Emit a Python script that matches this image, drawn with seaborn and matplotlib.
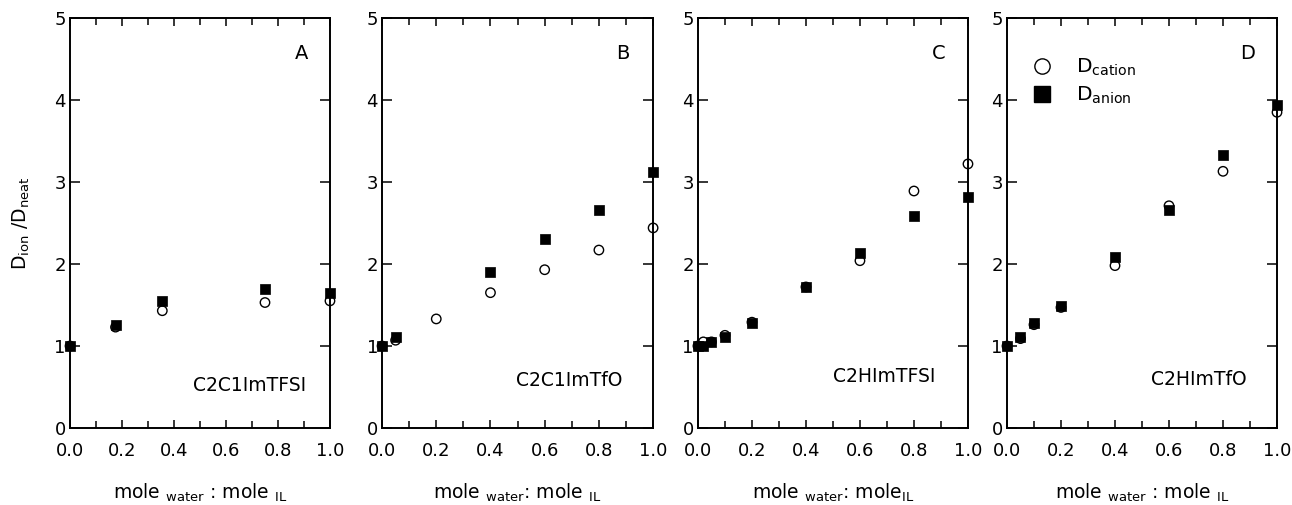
import numpy as np
import pandas as pd
import seaborn as sns
import matplotlib.pyplot as plt
from matplotlib.lines import Line2D
from matplotlib.ticker import MultipleLocator

# --- Data ---
panel_letters = ["A", "B", "C", "D"]
panel_names = ["C2C1ImTFSI", "C2C1ImTfO", "C2HImTFSI", "C2HImTfO"]

# Panel A: C2C1ImTFSI
x_a = [0.0, 0.175, 0.355, 0.75, 1.0]
cation_a = [1.00, 1.23, 1.43, 1.53, 1.55]
anion_a = [1.00, 1.26, 1.55, 1.69, 1.65]

# Panel B: C2C1ImTfO
x_b_cation = [0.0, 0.05, 0.2, 0.4, 0.6, 0.8, 1.0]
cation_b = [1.00, 1.07, 1.33, 1.65, 1.93, 2.17, 2.44]
x_b_anion = [0.0, 0.05, 0.4, 0.6, 0.8, 1.0]
anion_b = [1.00, 1.11, 1.90, 2.30, 2.66, 3.12]

# Panel C: C2HImTFSI
x_c = [0.0, 0.02, 0.05, 0.1, 0.2, 0.4, 0.6, 0.8, 1.0]
cation_c = [1.00, 1.05, 1.05, 1.13, 1.29, 1.72, 2.04, 2.89, 3.22]
anion_c = [1.00, 1.00, 1.05, 1.11, 1.28, 1.72, 2.13, 2.585, 2.82]

# Panel D: C2HImTfO
x_d = [0.0, 0.05, 0.1, 0.2, 0.4, 0.6, 0.8, 1.0]
cation_d = [1.00, 1.09, 1.26, 1.47, 1.98, 2.71, 3.13, 3.85]
anion_d = [1.00, 1.11, 1.28, 1.49, 2.08, 2.66, 3.33, 3.94]

xlabels = [
    r"mole $_{water}$ : mole $_{IL}$",
    r"mole $_{water}$: mole $_{IL}$",
    r"mole $_{water}$: mole$_{IL}$",
    r"mole $_{water}$ : mole $_{IL}$",
]


def main():
    sns.set_style("ticks")
    plt.rcParams["font.family"] = ["DejaVu Sans"]
    plt.rcParams["mathtext.default"] = "regular"
    # plain black text and frame like the original figure
    for key in ["text.color", "axes.labelcolor", "xtick.color",
                "ytick.color", "axes.edgecolor"]:
        plt.rcParams[key] = "black"

    fig = plt.figure(figsize=(12.92, 5.05), dpi=100)

    lefts = [0.0542, 0.2957, 0.5402, 0.7794]
    widths = [0.2012, 0.2098, 0.2090, 0.2090]
    bottom, height = 0.1525, 0.8119

    series = [
        (x_a, cation_a, x_a, anion_a),
        (x_b_cation, cation_b, x_b_anion, anion_b),
        (x_c, cation_c, x_c, anion_c),
        (x_d, cation_d, x_d, anion_d),
    ]
    text_pos = [(0.91, 0.52), (0.888, 0.585), (0.878, 0.63), (0.888, 0.59)]

    for i, (xc, yc, xa, ya) in enumerate(series):
        ax = fig.add_axes([lefts[i], bottom, widths[i], height])
        df_c = pd.DataFrame({"x": xc, "y": yc})
        df_a = pd.DataFrame({"x": xa, "y": ya})

        sns.scatterplot(data=df_c, x="x", y="y", marker="o", s=46,
                        facecolors="none", edgecolor="black", linewidth=1.0,
                        ax=ax, zorder=3, clip_on=False)
        sns.scatterplot(data=df_a, x="x", y="y", marker="s", s=60,
                        color="black", edgecolor="black", linewidth=0.5,
                        ax=ax, zorder=4, clip_on=False)

        ax.set_xlim(0, 1)
        ax.set_ylim(0, 5)
        ax.xaxis.set_major_locator(MultipleLocator(0.2))
        ax.xaxis.set_minor_locator(MultipleLocator(0.1))
        ax.yaxis.set_major_locator(MultipleLocator(1))
        ax.xaxis.set_major_formatter(plt.FuncFormatter(lambda v, p: f"{v:.1f}"))
        ax.tick_params(axis="both", which="both", direction="in",
                       top=True, right=True, labelsize=13, width=1.1)
        ax.tick_params(axis="x", which="major", length=6, pad=10)
        ax.tick_params(axis="x", which="minor", length=5)
        ax.tick_params(axis="y", which="major", length=7, pad=3)
        for sp in ax.spines.values():
            sp.set_linewidth(1.4)
            sp.set_visible(True)

        ax.set_xlabel(xlabels[i], fontsize=13.5, labelpad=16)
        if i == 0:
            ax.set_ylabel(r"D$_{ion}$ /D$_{neat}$", fontsize=13.5, labelpad=16)
        else:
            ax.set_ylabel("")

        ax.text(0.89, 4.57, panel_letters[i], transform=ax.get_yaxis_transform(),
                fontsize=14, ha="center", va="center")
        tx, ty = text_pos[i]
        ax.text(tx, ty, panel_names[i], transform=ax.get_yaxis_transform(),
                fontsize=13.5, ha="right", va="center")

        if i == 3:
            handles = [
                Line2D([], [], marker="o", linestyle="none", markersize=11,
                       markerfacecolor="none", markeredgecolor="black",
                       markeredgewidth=1.0),
                Line2D([], [], marker="s", linestyle="none", markersize=11.5,
                       markerfacecolor="black", markeredgecolor="black"),
            ]
            ax.legend(handles, [r"D$_{cation}$", r"D$_{anion}$"],
                      loc="upper left", bbox_to_anchor=(0.025, 0.925),
                      frameon=False, fontsize=14.5, handletextpad=0.7,
                      labelspacing=0.35, borderaxespad=0)

    fig.savefig("out.png", dpi=fig.dpi)
    plt.close(fig)


if __name__ == "__main__":
    main()
